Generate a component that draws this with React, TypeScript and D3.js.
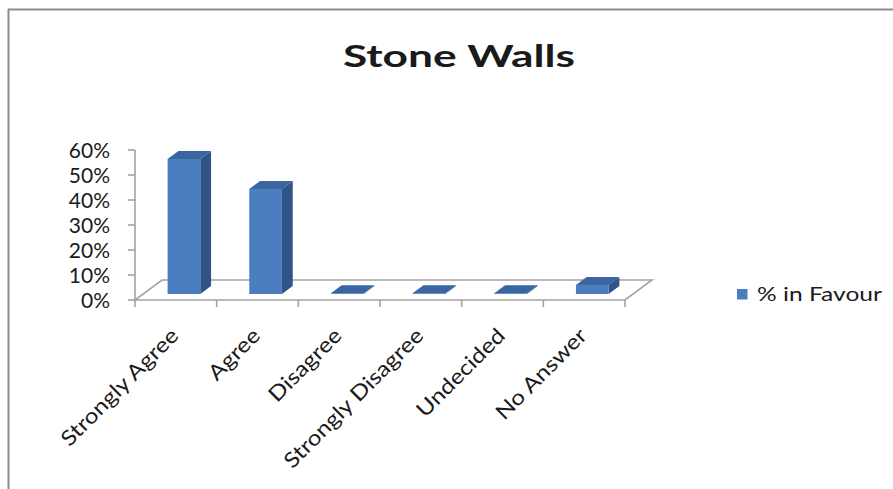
import React from "react";
import * as d3 from "d3";

// Survey responses: share of people in favour of stone walls
const categories = ["Strongly Agree", "Agree", "Disagree", "Strongly Disagree", "Undecided", "No Answer"];
const inFavour = [0.54, 0.42, 0, 0, 0, 0.036];
const yTicks = [0, 0.1, 0.2, 0.3, 0.4, 0.5, 0.6];
const seriesName = "% in Favour";
const chartTitle = "Stone Walls";

const W = 893;
const H = 489;
const FONT = "Lato, 'Open Sans', sans-serif";

// floor and plot geometry (3D oblique projection)
const plotLeft = 135;
const plotRight = 625;
const floorY = 300;
const topY = 150;
const depth = { dx: 27, dy: -20 };
const barFront = 0.3; // fraction of floor depth where the bar front face sits
const barBack = 0.7;

const COLORS = {
  front: "#4A7EBE",
  top: "#3A65A0",
  side: "#2F5487",
  axis: "#A3A3A3",
  text: "#1a1a1a",
};

export default function App() {
  const x = d3.scaleBand<string>().domain(categories).range([plotLeft, plotRight]);
  const y = d3.scaleLinear().domain([0, 0.6]).range([floorY, topY]);
  const fmt = d3.format(".0%");

  const fx = depth.dx * barFront;
  const fy = depth.dy * barFront;
  const bdx = depth.dx * (barBack - barFront);
  const bdy = depth.dy * (barBack - barFront);
  const barW = x.bandwidth() * 0.4;

  const pts = (p: [number, number][]) => p.map((q) => q.join(",")).join(" ");

  const floorPath = pts([
    [plotLeft, floorY],
    [plotRight, floorY],
    [plotRight + depth.dx, floorY + depth.dy],
    [plotLeft + depth.dx, floorY + depth.dy],
  ]);

  return (
    <svg width={W} height={H} style={{ display: "block", position: "absolute", left: 0, top: 0, background: "#fff" }}>
      <rect x={0} y={0} width={W} height={H} fill="#fff" />
      {/* chart frame */}
      <line x1={8} y1={9.5} x2={W} y2={9.5} stroke="#8c8c8c" strokeWidth={2} />
      <line x1={8.5} y1={9} x2={8.5} y2={H} stroke="#8c8c8c" strokeWidth={2} />

      <text
        x={343}
        y={67}
        textLength={232}
        lengthAdjust="spacingAndGlyphs"
        fontFamily={FONT}
        fontWeight={700}
        fontSize={31}
        fill={COLORS.text}
      >
        {chartTitle}
      </text>

      {/* floor */}
      <polygon points={floorPath} fill="none" stroke={COLORS.axis} strokeWidth={1.6} />

      {/* value axis */}
      <line x1={plotLeft} y1={topY} x2={plotLeft} y2={floorY} stroke={COLORS.axis} strokeWidth={1.6} />
      {yTicks.map((t) => (
        <g key={t}>
          <line x1={plotLeft - 7} y1={y(t)} x2={plotLeft} y2={y(t)} stroke={COLORS.axis} strokeWidth={1.6} />
          <text x={plotLeft - 25} y={y(t) + 8} textAnchor="end" fontFamily={FONT} fontSize={21} fill={COLORS.text}>
            {fmt(t)}
          </text>
        </g>
      ))}

      {/* category axis ticks */}
      {d3.range(categories.length + 1).map((i) => {
        const tx = plotLeft + i * x.step();
        return <line key={i} x1={tx} y1={floorY} x2={tx} y2={floorY + 7} stroke={COLORS.axis} strokeWidth={1.6} />;
      })}

      {/* bars */}
      {categories.map((c, i) => {
        const cx = (x(c) as number) + x.bandwidth() / 2 + fx;
        const x0 = cx - barW / 2;
        const x1 = cx + barW / 2;
        const yb = y(0) + fy;
        const yt = Math.min(y(inFavour[i]) + fy, yb - 0.8);
        return (
          <g key={c}>
            <polygon
              points={pts([[x1, yb], [x1 + bdx, yb + bdy], [x1 + bdx, yt + bdy], [x1, yt]])}
              fill={COLORS.side}
            />
            <polygon
              points={pts([[x0, yt], [x1, yt], [x1 + bdx, yt + bdy], [x0 + bdx, yt + bdy]])}
              fill={COLORS.top}
            />
            <rect x={x0} y={yt} width={barW} height={yb - yt} fill={COLORS.front} />
          </g>
        );
      })}

      {/* category labels */}
      {categories.map((c) => {
        const lx = (x(c) as number) + x.bandwidth() / 2 + 4;
        const ly = 337;
        return (
          <text
            key={c}
            x={0}
            y={0}
            textAnchor="end"
            transform={`translate(${lx}, ${ly}) rotate(-45) scale(1.16, 1)`}
            fontFamily={FONT}
            fontSize={21}
            fill={COLORS.text}
          >
            {c}
          </text>
        );
      })}

      {/* legend */}
      <rect x={737} y={289} width={10.5} height={10.5} fill={COLORS.front} />
      <text
        x={757}
        y={300.5}
        textLength={125}
        lengthAdjust="spacingAndGlyphs"
        fontFamily={FONT}
        fontSize={20}
        fill={COLORS.text}
      >
        {seriesName}
      </text>
    </svg>
  );
}
